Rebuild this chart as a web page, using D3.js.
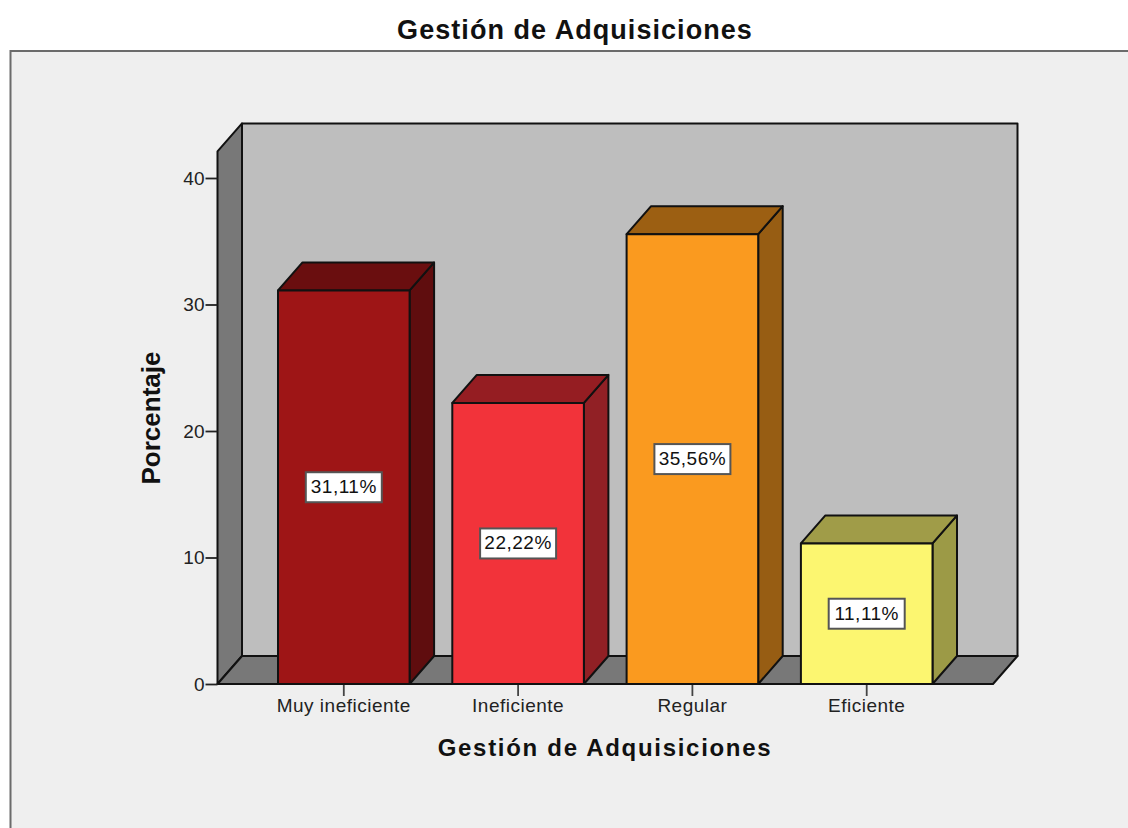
<!DOCTYPE html>
<html>
<head>
<meta charset="utf-8">
<script src="https://d3js.org/d3.v7.min.js"></script>
<style>
  html, body { margin: 0; padding: 0; background: #fff; }
  svg { display: block; }
  text { font-family: "Liberation Sans", Arial, sans-serif; fill: #111; }
</style>
</head>
<body>
<div class="chart"></div>
<script>
const categories = ["Muy ineficiente", "Ineficiente", "Regular", "Eficiente"]
const percentages = [31.11, 22.22, 35.56, 11.11]
const yTicks = [0, 10, 20, 30, 40]
const frontColors = ["#9e1516", "#f2333a", "#fa9a1f", "#fcf670"]
const sideColors = ["#5f0d0e", "#912025", "#975d13", "#9c9a46"]
const topColors = ["#6a0e0f", "#951d22", "#9c5f12", "#a09c48"]

const width = 1128, height = 828
const left = 217.5, right = 993, bottom = 684
const depthX = 24.5, depthY = 28

const x = d3.scaleBand()
    .domain(categories)
    .range([278, 932.5])
    .paddingInner(.245)

// 40 sits at y=178, the walls carry on a bit above that
const y = d3.scaleLinear()
    .domain([0, 40])
    .range([bottom, 178])

const yTop = y(42.1)

const svg = d3.select(".chart").append("svg")
    .attr("width", width)
    .attr("height", height)

const line = d3.line()

function poly(points, fill, sw) {
    svg.append("path")
        .attr("d", line(points) + "Z")
        .attr("fill", fill)
        .attr("stroke", "#111")
        .attr("stroke-width", sw || 2)
        .attr("stroke-linejoin", "round")
}

// outer frame, runs off the right and bottom of the page
svg.append("rect")
    .attr("x", 10.5)
    .attr("y", 51)
    .attr("width", width + 20)
    .attr("height", height)
    .attr("fill", "#efefef")
    .attr("stroke", "#6b6b6b")
    .attr("stroke-width", 2)

svg.append("text")
    .attr("x", 575)
    .attr("y", 39)
    .attr("text-anchor", "middle")
    .style("font-size", "27px")
    .style("font-weight", "bold")
    .style("letter-spacing", "1.05px")
    .text("Gestión de Adquisiciones")

// back wall, left wall and floor
poly([[left + depthX, yTop - depthY], [right + depthX, yTop - depthY], [right + depthX, bottom - depthY], [left + depthX, bottom - depthY]], "#bebebe")
poly([[left, yTop], [left + depthX, yTop - depthY], [left + depthX, bottom - depthY], [left, bottom]], "#787878")
poly([[left, bottom], [left + depthX, bottom - depthY], [right + depthX, bottom - depthY], [right, bottom]], "#787878")

const yAxis = d3.axisLeft(y)
    .tickValues(yTicks)
    .tickSize(12)
    .tickPadding(1)

const xAxis = d3.axisBottom(x)
    .tickSize(12)
    .tickPadding(3)

const yG = svg.append("g")
    .attr("transform", "translate(" + left + ",0)")
    .call(yAxis)

const xG = svg.append("g")
    .attr("transform", "translate(0," + bottom + ")")
    .call(xAxis)

yG.select(".domain").remove()
xG.select(".domain").remove()
yG.selectAll("line").attr("stroke", "#222").attr("stroke-width", 1.8)
xG.selectAll("line").attr("stroke", "#444").attr("stroke-width", 1.8)
yG.selectAll("text").style("font-size", "19px").style("fill", "#222")
xG.selectAll("text").style("font-size", "19px").style("letter-spacing", ".5px").style("fill", "#222")

percentages.forEach(function(d, i) {
    const x0 = x(categories[i]), x1 = x0 + x.bandwidth(), yv = y(d)

    poly([[x1, yv], [x1 + depthX, yv - depthY], [x1 + depthX, bottom - depthY], [x1, bottom]], sideColors[i])
    poly([[x0, yv], [x0 + depthX, yv - depthY], [x1 + depthX, yv - depthY], [x1, yv]], topColors[i])
    poly([[x0, yv], [x1, yv], [x1, bottom], [x0, bottom]], frontColors[i])

    // value label in a small white box at mid height of the bar
    const cx = (x0 + x1) / 2, cy = (yv + bottom) / 2
    svg.append("rect")
        .attr("x", cx - 38)
        .attr("y", cy - 15)
        .attr("width", 76)
        .attr("height", 30)
        .attr("fill", "#fff")
        .attr("stroke", "#555")
        .attr("stroke-width", 2)

    svg.append("text")
        .attr("x", cx)
        .attr("y", cy + 6)
        .attr("text-anchor", "middle")
        .style("font-size", "19px")
        .style("letter-spacing", ".5px")
        .text(d.toFixed(2).replace(".", ",") + "%")
})

svg.append("text")
    .attr("x", 605)
    .attr("y", 756)
    .attr("text-anchor", "middle")
    .style("font-size", "24px")
    .style("font-weight", "bold")
    .style("letter-spacing", "1.7px")
    .text("Gestión de Adquisiciones")

svg.append("text")
    .attr("transform", "translate(160,418) rotate(-90)")
    .attr("text-anchor", "middle")
    .style("font-size", "26px")
    .style("font-weight", "bold")
    .text("Porcentaje")
</script>
</body>
</html>
